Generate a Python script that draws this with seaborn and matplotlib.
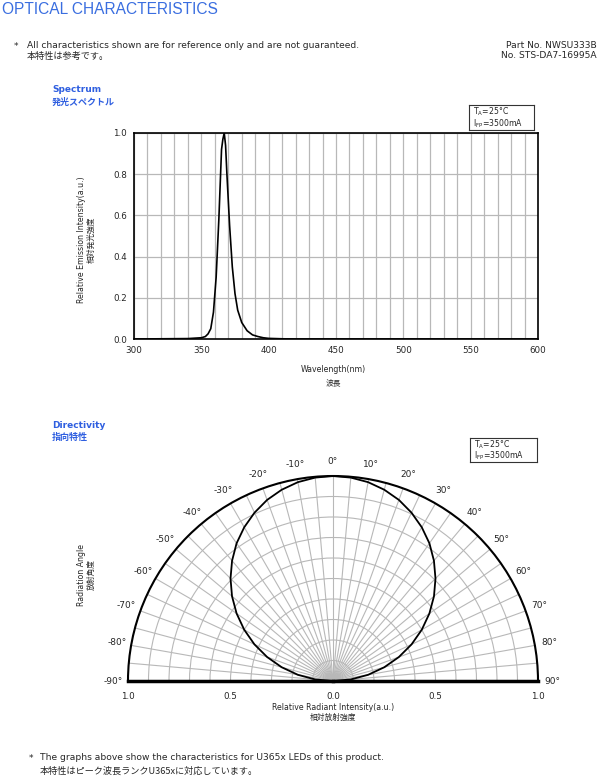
import numpy as np
import matplotlib
matplotlib.use("Agg")
import matplotlib.pyplot as plt
import pandas as pd
import seaborn as sns

# spectrum
wavelength = [300, 340, 350, 353, 355, 357, 359, 361, 363, 365, 366, 367, 368, 369,
              371, 373, 375, 377, 380, 384, 388, 392, 396, 400, 410, 420, 600]
intensity = [0.0, 0.002, 0.006, 0.012, 0.025, 0.05, 0.13, 0.30, 0.58, 0.92, 0.97, 1.0,
             0.94, 0.80, 0.55, 0.35, 0.22, 0.14, 0.08, 0.04, 0.02, 0.012, 0.006, 0.003,
             0.001, 0.0, 0.0]

# directivity (symmetric)
angle_deg = [-90, -85, -80, -75, -70, -65, -60, -55, -50, -45, -40, -35, -30, -25, -20,
             -15, -10, -5, 0, 5, 10, 15, 20, 25, 30, 35, 40, 45, 50, 55, 60, 65, 70,
             75, 80, 85, 90]
radiant = [0.0, 0.087, 0.174, 0.259, 0.342, 0.423, 0.5, 0.574, 0.643, 0.707, 0.766,
           0.82, 0.866, 0.906, 0.94, 0.966, 0.985, 0.996, 1.0, 0.996, 0.985, 0.966,
           0.94, 0.906, 0.866, 0.82, 0.766, 0.707, 0.643, 0.574, 0.5, 0.423, 0.342,
           0.259, 0.174, 0.087, 0.0]

spec_xticks = [300, 350, 400, 450, 500, 550, 600]
spec_yticks = [0.0, 0.2, 0.4, 0.6, 0.8, 1.0]
r_labels = ["1.0", "0.5", "0.0", "0.5", "1.0"]
r_label_pos = [(-90, 1.0), (-90, 0.5), (0, 0.0), (90, 0.5), (90, 1.0)]

sns.set_style("white")
plt.rcParams['font.family'] = ['DejaVu Sans', 'Noto Sans CJK JP']
JP = ['Noto Sans CJK JP', 'DejaVu Sans']
BLUE = '#2f5fe0'
GRID = '#b8b8b8'

W, H = 600, 779
fig = plt.figure(figsize=(W / 100, H / 100), dpi=100)


def fx(px):
    return px / W


def fy(py):
    return 1 - py / H


# header texts
fig.text(fx(2), fy(10), "OPTICAL CHARACTERISTICS", color='#3a6ee0', fontsize=11.2,
         va='center', ha='left', family=['Liberation Sans'])
fig.text(fx(14), fy(46), "*", fontsize=6.6, va='center')
fig.text(fx(27), fy(45), "All characteristics shown are for reference only and are not guaranteed.",
         fontsize=6.6, va='center')
fig.text(fx(27), fy(56), "本特性は参考です。", fontsize=6.6, va='center', family=JP)
fig.text(fx(597), fy(45), "Part No. NWSU333B", fontsize=6.6, va='center', ha='right')
fig.text(fx(597), fy(56), "No. STS-DA7-16995A", fontsize=6.6, va='center', ha='right')

fig.text(fx(52), fy(89), "Spectrum", color=BLUE, fontsize=6.5, weight='bold', va='center')
fig.text(fx(52), fy(102), "発光スペクトル", color=BLUE, fontsize=6.5, weight='bold', va='center', family=JP)
fig.text(fx(52), fy(425), "Directivity", color=BLUE, fontsize=6.5, weight='bold', va='center')
fig.text(fx(52), fy(437), "指向特性", color=BLUE, fontsize=6.5, weight='bold', va='center', family=JP)


def cond_box(x0, y0, x1, y1):
    ax_b = fig.add_axes([fx(x0), fy(y1), fx(x1 - x0), (y1 - y0) / H])
    ax_b.set_xticks([])
    ax_b.set_yticks([])
    for s in ax_b.spines.values():
        s.set_linewidth(0.8)
        s.set_color('#333333')
    ax_b.text(0.06, 0.73, r"T$_\mathrm{A}$=25°C", fontsize=5.6, va='center', transform=ax_b.transAxes)
    ax_b.text(0.06, 0.27, r"I$_\mathrm{FP}$=3500mA", fontsize=5.6, va='center', transform=ax_b.transAxes)


cond_box(469, 105, 534, 130)
cond_box(470, 438, 537, 462)

# spectrum chart
ax1 = fig.add_axes([fx(134), fy(339), fx(404), (339 - 133) / H])
spec = pd.DataFrame({'wl': wavelength, 'I': intensity})
sns.lineplot(data=spec, x='wl', y='I', ax=ax1, color='black', linewidth=1.2)
ax1.set_xlim(300, 600)
ax1.set_ylim(0, 1.0)
ax1.set_xticks(spec_xticks)
ax1.set_xticks(np.arange(300, 601, 10), minor=True)
ax1.set_yticks(spec_yticks)
ax1.set_yticklabels([f"{v:.1f}" for v in spec_yticks])
ax1.grid(True, which='both', color=GRID, linewidth=0.9)
ax1.set_axisbelow(True)
ax1.tick_params(axis='both', which='both', length=0, labelsize=6.3, pad=5)
for s in ax1.spines.values():
    s.set_color('black')
    s.set_linewidth(1.2)
ax1.set_xlabel("")
ax1.set_ylabel("")
fig.text(fx(333), fy(370), "Wavelength(nm)", fontsize=5.6, ha='center', va='center')
fig.text(fx(333), fy(383), "波長", fontsize=5.6, ha='center', va='center', family=JP)
fig.text(fx(81), fy(240), "Relative Emission Intensity(a.u.)", fontsize=5.6, rotation=90,
         ha='center', va='center')
fig.text(fx(92), fy(240), "相対発光強度", fontsize=5.6, rotation=90, ha='center', va='center', family=JP)

# directivity chart: square box, the half disc sits centred in it
cx, cy, R = 333, 681, 205
ax2 = fig.add_axes([fx(cx - R), fy(cy + R / 2), fx(2 * R), 2 * R / H], projection='polar')
ax2.set_theta_zero_location('N')
ax2.set_theta_direction(-1)
ax2.set_thetamin(-90)
ax2.set_thetamax(90)
ax2.set_ylim(0, 1.0)
direc = pd.DataFrame({'th': np.deg2rad(angle_deg), 'r': radiant})
sns.lineplot(data=direc, x='th', y='r', ax=ax2, color='black', linewidth=1.3, sort=False)
ax2.set_xlabel("")
ax2.set_ylabel("")
ax2.set_rticks(np.arange(0.1, 1.0, 0.1))
ax2.set_yticklabels([])
grid_angles = np.arange(-90, 91, 5)
ax2.set_thetagrids(grid_angles, [f"{a}°" if a % 10 == 0 else "" for a in grid_angles])
ax2.grid(True, color=GRID, linewidth=0.8)
ax2.tick_params(axis='x', labelsize=6.5, pad=0)
ax2.spines['polar'].set_linewidth(1.5)
ax2.spines['polar'].set_color('black')
for k in ('start', 'end'):
    ax2.spines[k].set_linewidth(2.5)
    ax2.spines[k].set_color('black')
ax2.spines['inner'].set_visible(False)

for lab, (a, r) in zip(r_labels, r_label_pos):
    ax2.annotate(lab, xy=(np.deg2rad(a), r), xytext=(0, -11), textcoords='offset points',
                 ha='center', va='center', fontsize=6.3)

fig.text(fx(333), fy(707), "Relative Radiant Intensity(a.u.)", fontsize=5.6, ha='center', va='center')
fig.text(fx(333), fy(718), "相対放射強度", fontsize=5.6, ha='center', va='center', family=JP)
fig.text(fx(81), fy(575), "Radiation Angle", fontsize=5.6, rotation=90, ha='center', va='center')
fig.text(fx(92), fy(575), "放射角度", fontsize=5.6, rotation=90, ha='center', va='center', family=JP)

# footer
fig.text(fx(29), fy(759), "*", fontsize=6.6, va='center')
fig.text(fx(40), fy(758), "The graphs above show the characteristics for U365x LEDs of this product.",
         fontsize=6.6, va='center')
fig.text(fx(40), fy(771), "本特性はピーク波長ランクU365xに対応しています。", fontsize=6.6,
         va='center', family=JP)

fig.savefig("out.png", dpi=100)
